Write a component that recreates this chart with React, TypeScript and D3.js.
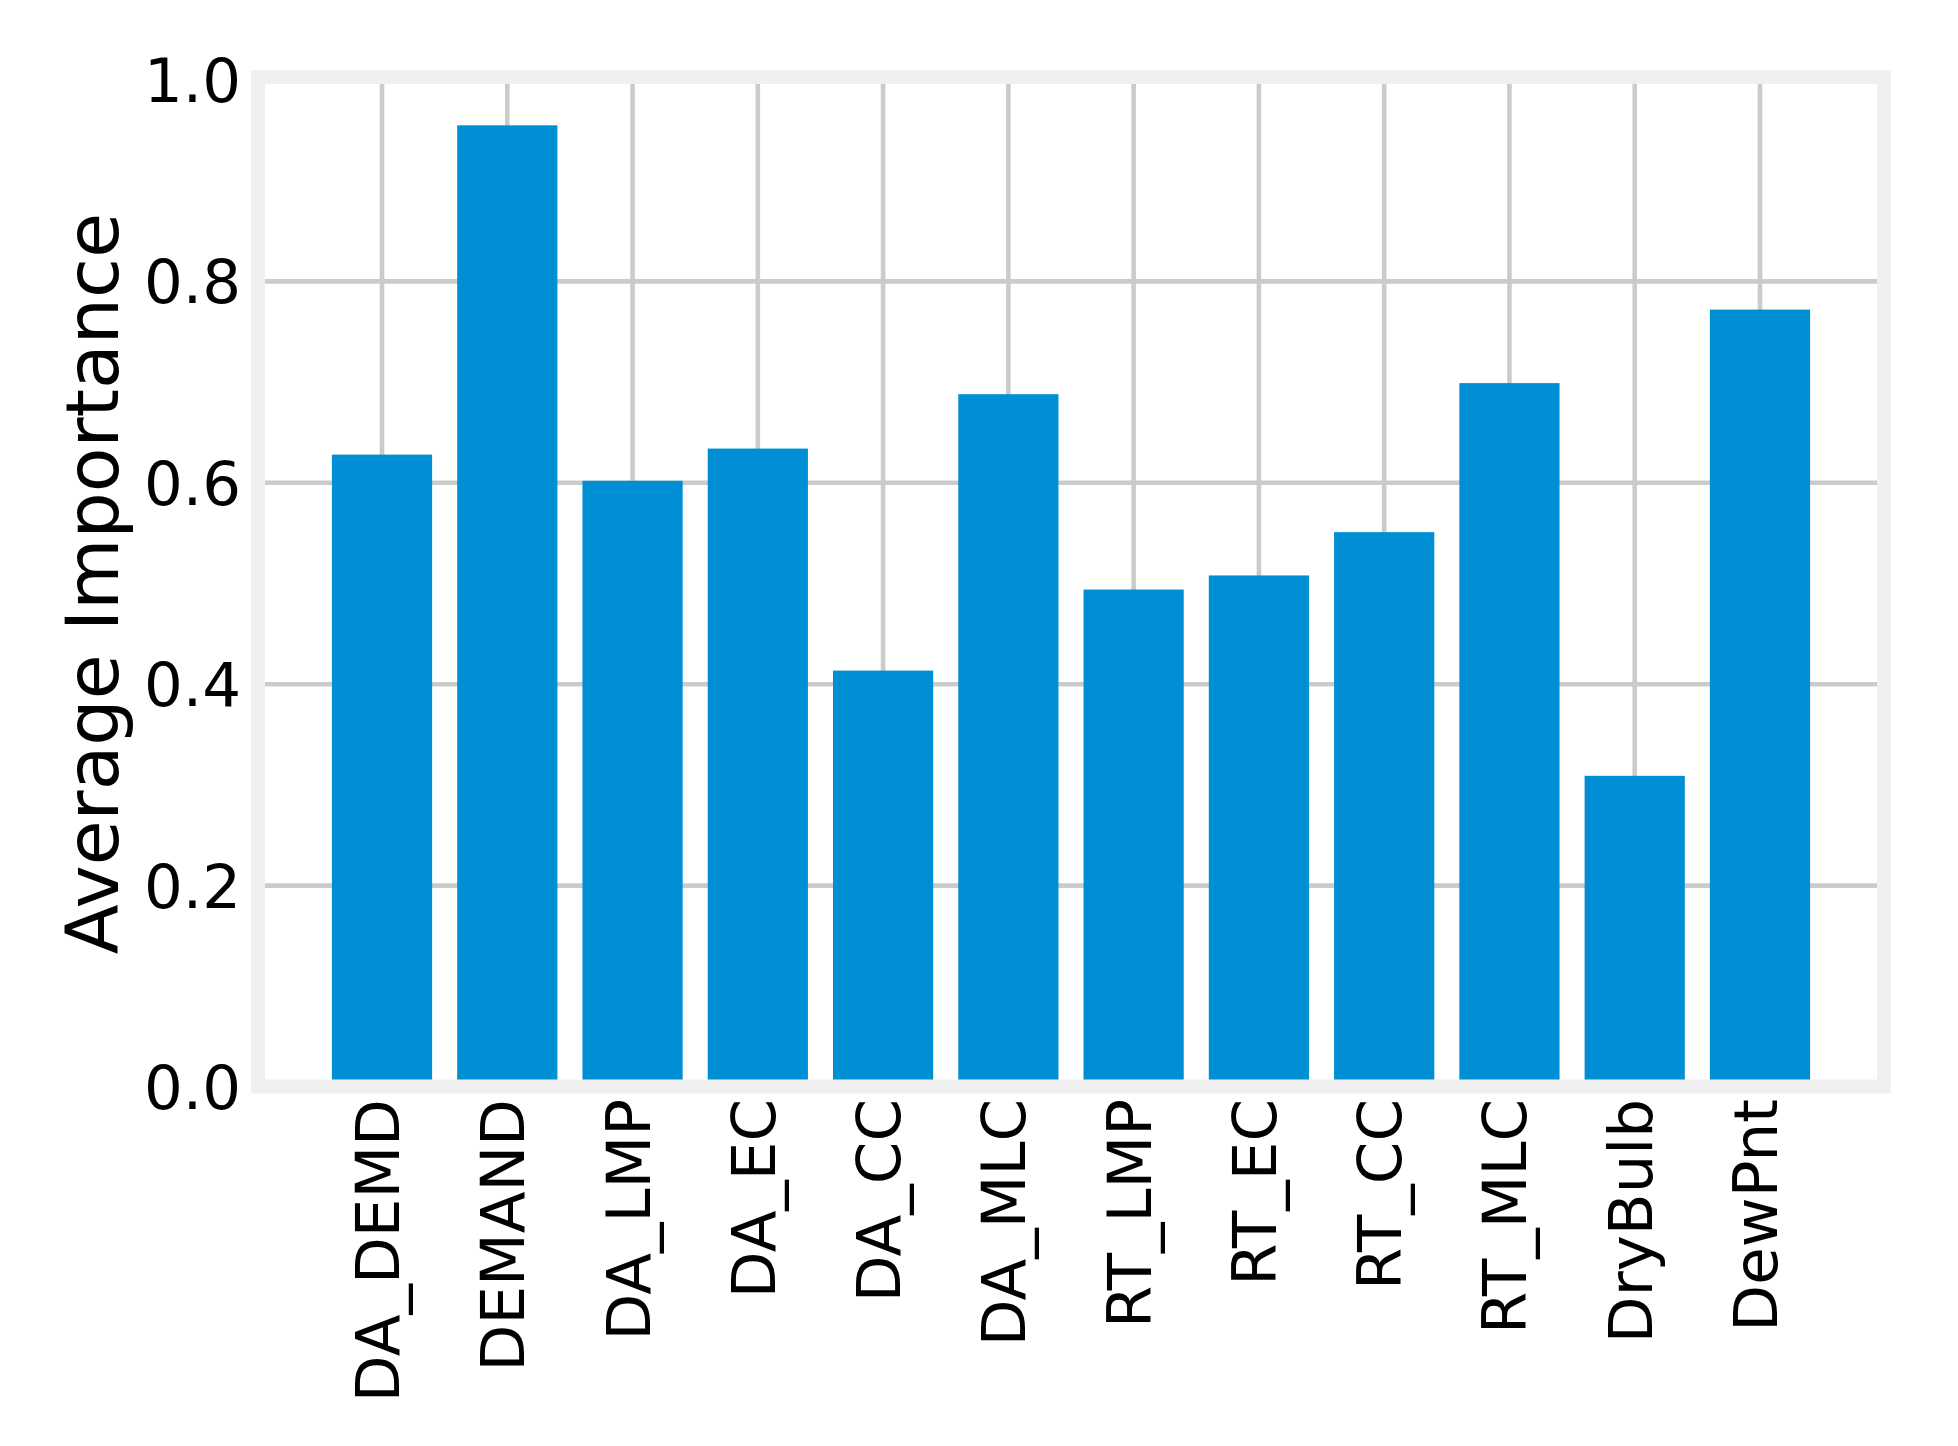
import { useEffect, useRef } from "react";
import * as d3 from "d3";

const features = [
  "DA_DEMD",
  "DEMAND",
  "DA_LMP",
  "DA_EC",
  "DA_CC",
  "DA_MLC",
  "RT_LMP",
  "RT_EC",
  "RT_CC",
  "RT_MLC",
  "DryBulb",
  "DewPnt",
];
const importance = [0.628, 0.955, 0.602, 0.634, 0.4135, 0.688, 0.494, 0.508, 0.551, 0.699, 0.309, 0.772];
const yTicks = [0.0, 0.2, 0.4, 0.6, 0.8, 1.0];

const WIDTH = 1958;
const HEIGHT = 1446;
const FONT = "'DejaVu Sans', sans-serif";

const App = () => {
  const svgRef = useRef<SVGSVGElement | null>(null);

  useEffect(() => {
    if (!svgRef.current) return;
    const svg = d3.select(svgRef.current);
    svg.selectAll("*").remove();

    // axes frame (centre of the thick light border)
    const left = 258;
    const right = 1884;
    const top = 77;
    const bottom = 1086.5;
    const frame = 14;

    const x = d3.scaleLinear().domain([-0.99, 11.99]).range([left, right]);
    const y = d3.scaleLinear().domain([0, 1]).range([1087, 80]);
    const barW = x(0.8) - x(0);

    svg.append("rect").attr("width", WIDTH).attr("height", HEIGHT).attr("fill", "#ffffff");

    // grid
    const grid = svg.append("g").attr("stroke", "#cbcbcb").attr("stroke-width", 4.6);
    grid
      .selectAll("line.h")
      .data(yTicks)
      .join("line")
      .attr("class", "h")
      .attr("x1", left)
      .attr("x2", right)
      .attr("y1", (d) => y(d))
      .attr("y2", (d) => y(d));
    grid
      .selectAll("line.v")
      .data(features)
      .join("line")
      .attr("class", "v")
      .attr("x1", (_, i) => x(i))
      .attr("x2", (_, i) => x(i))
      .attr("y1", top)
      .attr("y2", bottom);

    // bars
    svg
      .append("g")
      .selectAll("rect")
      .data(importance)
      .join("rect")
      .attr("x", (_, i) => x(i) - barW / 2)
      .attr("width", barW)
      .attr("y", (d) => y(d))
      .attr("height", (d) => y(0) - y(d))
      .attr("fill", "#008fd5");

    // frame
    svg
      .append("rect")
      .attr("x", left)
      .attr("y", top)
      .attr("width", right - left)
      .attr("height", bottom - top)
      .attr("fill", "none")
      .attr("stroke", "#f0f0f0")
      .attr("stroke-width", frame);

    // y tick labels
    svg
      .append("g")
      .selectAll("text")
      .data(yTicks)
      .join("text")
      .attr("x", 241)
      .attr("y", (d) => y(d) + 22)
      .attr("text-anchor", "end")
      .attr("font-family", FONT)
      .attr("font-size", 61)
      .attr("fill", "#000")
      .text((d) => d3.format(".1f")(d));

    // x tick labels (rotated)
    svg
      .append("g")
      .selectAll("text")
      .data(features)
      .join("text")
      .attr("transform", (_, i) => `translate(${x(i) + 17},1099) rotate(-90)`)
      .attr("text-anchor", "end")
      .attr("font-family", FONT)
      .attr("font-size", 61)
      .attr("fill", "#000")
      .text((d) => d);

    // y axis label
    svg
      .append("text")
      .attr("transform", `translate(118,${(y(0) + y(1)) / 2}) rotate(-90)`)
      .attr("text-anchor", "middle")
      .attr("font-family", FONT)
      .attr("font-size", 73)
      .attr("fill", "#000")
      .text("Average Importance");
  }, []);

  return (
    <svg
      ref={svgRef}
      width={WIDTH}
      height={HEIGHT}
      style={{ position: "absolute", left: 0, top: 0, display: "block" }}
    />
  );
};

export default App;
